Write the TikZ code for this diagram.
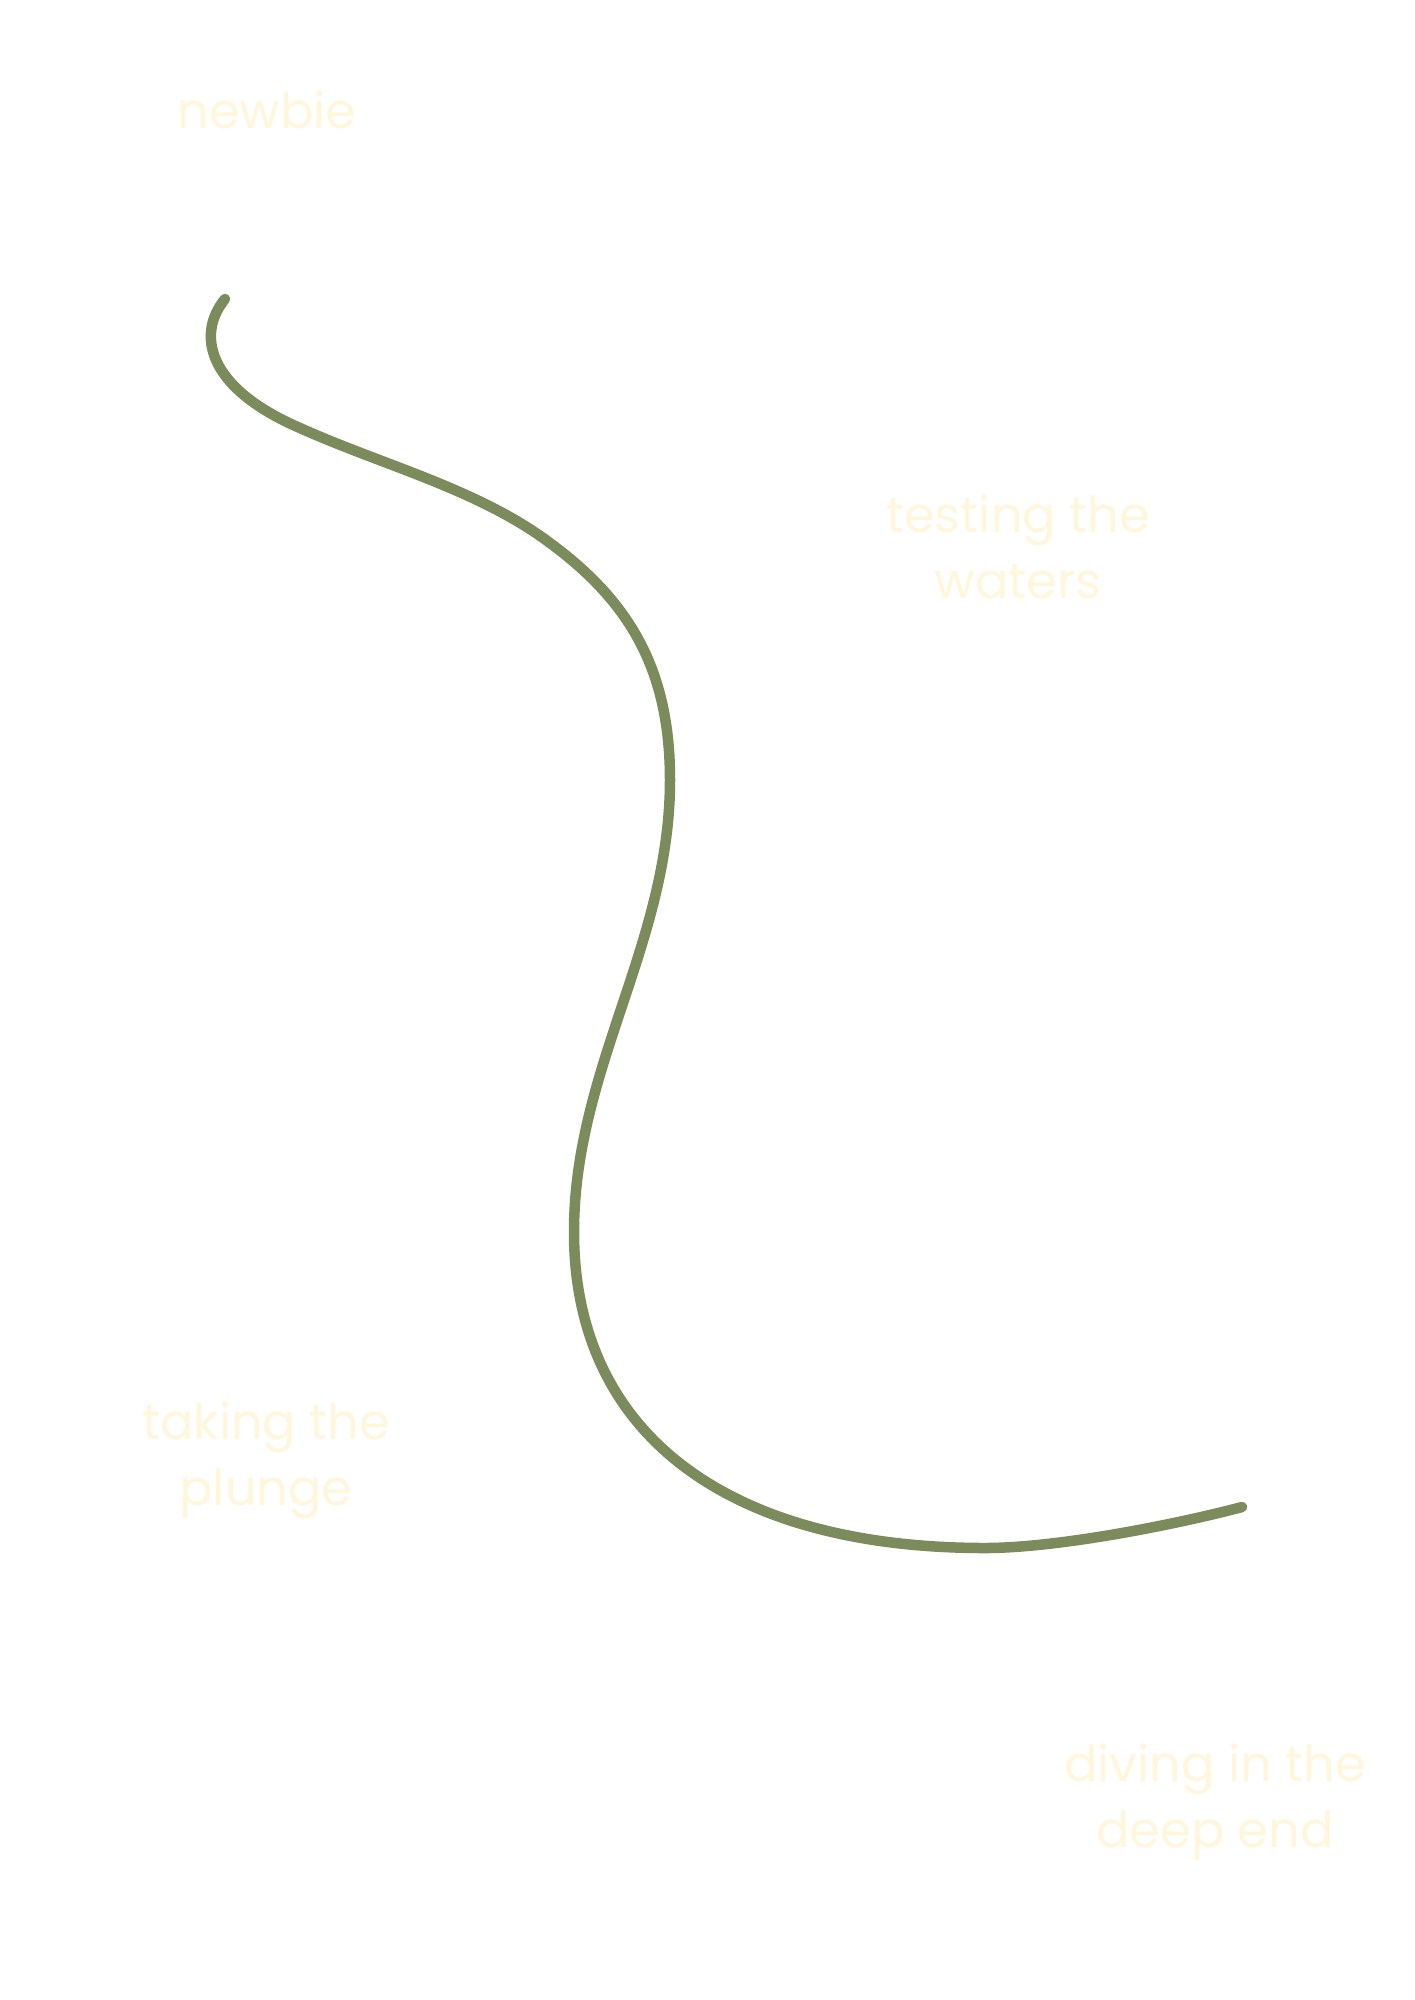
\documentclass[tikz,border=0pt]{standalone}
\usepackage{fontspec}
\setmainfont{Poppins}
\definecolor{pathgreen}{HTML}{7B8B5C}
\definecolor{labelcream}{HTML}{FFF6DC}
\tikzset{
  stagelabel/.style={text=labelcream, font=\fontsize{49.5}{66}\selectfont, align=center, anchor=base, inner sep=0pt},
  journey/.style={draw=pathgreen, line width=10.5pt, line cap=round, line join=round}
}
\begin{document}
\begin{tikzpicture}[x=1pt,y=-1pt]
\useasboundingbox (0,0) rectangle (1414,2000);
\fill[white] (0,0) rectangle (1414,2000);
\node[stagelabel] (newbie) at (267,128) {newbie};
\node[stagelabel] (testing) at (1018,598) {testing the\\waters};
\node[stagelabel] (plunge) at (266,1505) {taking the\\plunge};
\node[stagelabel] (diving) at (1215,1847) {diving in the\\deep end};
\coordinate (s0) at (225,299);
\coordinate (s1) at (300,428);
\coordinate (s1b) at (550,543);
\coordinate (s2) at (670,780);
\coordinate (s3) at (574,1232);
\coordinate (s4) at (985,1548);
\coordinate (s5) at (1242,1507);
\draw[journey] (s0) .. controls (197,333) and (205,387) .. (s1)
  .. controls (382,465) and (478,489) .. (s1b)
  .. controls (630,602) and (670,670) .. (s2)
  .. controls (670,944) and (574,1068) .. (s3)
  .. controls (574,1432) and (725,1548) .. (s4)
  .. controls (1060,1548) and (1182,1523) .. (s5);
\end{tikzpicture}
\end{document}
